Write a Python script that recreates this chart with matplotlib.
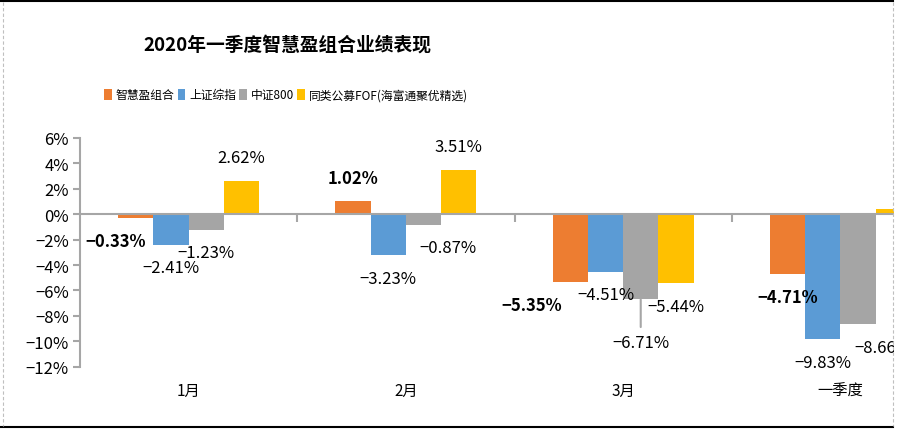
import numpy as np
import matplotlib
matplotlib.use('Agg')
import matplotlib.pyplot as plt
from matplotlib.patches import Rectangle, Patch
from matplotlib.lines import Line2D
import matplotlib.transforms as mtransforms

plt.rcParams['font.family'] = ['Noto Sans CJK SC', 'DejaVu Sans']

# Data
title = '2020年一季度智慧盈组合业绩表现'
categories = ['1月', '2月', '3月', '一季度']
series_names = ['智慧盈组合', '上证综指', '中证800', '同类公募FOF(海富通聚优精选)']
portfolio = [-0.33, 1.02, -5.35, -4.71]
sh_index = [-2.41, -3.23, -4.51, -9.83]
csi800 = [-1.23, -0.87, -6.71, -8.66]
peer_fof = [2.62, 3.51, -5.44, 0.44]
yticks = [-12, -10, -8, -6, -4, -2, 0, 2, 4, 6]

series = [portfolio, sh_index, csi800, peer_fof]
colors = ['#ED7D31', '#5B9BD5', '#A5A5A5', '#FFC000']
axis_gray = '#A6A6A6'

W, H = 897, 431
PX = 0.72  # points per pixel at dpi 100

fig = plt.figure(figsize=(W / 100, H / 100), dpi=100)
fig.patch.set_facecolor('white')

# plot area extends past the right edge (chart is cropped)
left, right, top, bottom = 80, 949, 139, 367.7
ax = fig.add_axes([left / W, 1 - bottom / H, (right - left) / W, (bottom - top) / H])
ax.set_xlim(-0.5, 3.5)
ax.set_ylim(-12, 6)

x = np.arange(len(categories))
bw = 0.162
for j, vals in enumerate(series):
    ax.bar(x + (j - 1.5) * bw, vals, width=bw, color=colors[j], zorder=2)

# axes styling
for s in ['top', 'right']:
    ax.spines[s].set_visible(False)
ax.spines['left'].set_color(axis_gray)
ax.spines['left'].set_linewidth(1.5)
ax.spines['bottom'].set_position(('data', 0))
ax.spines['bottom'].set_color(axis_gray)
ax.spines['bottom'].set_linewidth(1.5)
ax.spines['bottom'].set_zorder(3)

ax.set_yticks(yticks)
ax.set_yticklabels([f'{v}%'.replace('-', '\u2212') for v in yticks])
ax.tick_params(axis='y', direction='out', length=5, width=1.5, color=axis_gray,
               pad=3, labelsize=12, labelcolor='black')

ax.set_xticks(np.arange(0.5, 3.5, 1.0))
ax.set_xticklabels([])
ax.tick_params(axis='x', direction='out', length=5.5, width=1.5, color=axis_gray)

# category labels below plot area
trans = mtransforms.blended_transform_factory(ax.transData, ax.transAxes)
for i, c in enumerate(categories):
    ax.annotate(c, xy=(x[i], 0), xycoords=trans, xytext=(0, -24 * PX),
                textcoords='offset points', ha='center', va='center', fontsize=11)

# data labels: (dx, dy) pixel offsets from bar end
default_off = (0, 23)
special_off = {(0, 0): (-20, 23), (2, 1): (24, 22), (0, 2): (-39, 23),
               (2, 2): (0, 43), (2, 3): (25, 23), (3, 3): (24, 24)}
for j, vals in enumerate(series):
    for i, v in enumerate(vals):
        dx, dy = special_off.get((j, i), default_off)
        sign = 1 if v >= 0 else -1
        txt = f'{v:.2f}%'.replace('-', '\u2212')
        kw = {}
        if (j, i) == (2, 2):
            kw['arrowprops'] = dict(arrowstyle='-', color=axis_gray, lw=1.5,
                                    shrinkA=3, shrinkB=0)
        ax.annotate(txt, xy=(x[i] + (j - 1.5) * bw, v), xytext=(dx * PX, sign * dy * PX),
                    textcoords='offset points', ha='center', va='center',
                    fontsize=12, fontweight='bold' if j == 0 else 'normal',
                    color='black', zorder=4, **kw)

# title and legend
fig.text(287.5 / W, 1 - 45 / H, title, ha='center', va='center',
         fontsize=13.5, fontweight='bold')
handles = [Patch(facecolor=c, edgecolor='none') for c in colors]
fig.legend(handles, series_names, loc='center', bbox_to_anchor=(286 / W, 1 - 96 / H),
           ncol=4, frameon=False, fontsize=8.5, handlelength=0.65, handleheight=1.1,
           handletextpad=0.3, columnspacing=0.3, borderaxespad=0)

# crop at the chart's right edge and draw the border
fig.add_artist(Rectangle((893.5 / W, 0), 1, 1, transform=fig.transFigure,
                         facecolor='white', edgecolor='none', zorder=10))
fig.add_artist(Line2D([0, 893 / W], [1 - 2 / H, 1 - 2 / H], transform=fig.transFigure,
                      color='black', lw=1.5, zorder=11))
fig.add_artist(Line2D([0, 893 / W], [1 - 428 / H, 1 - 428 / H], transform=fig.transFigure,
                      color='black', lw=1.5, zorder=11))
for xp in [3, 893]:
    fig.add_artist(Line2D([xp / W, xp / W], [1 - 3 / H, 1 - 427 / H], transform=fig.transFigure,
                          color='#BFBFBF', lw=0.8, ls=(0, (3, 2)), zorder=11))

fig.savefig('out.png', dpi=100)
